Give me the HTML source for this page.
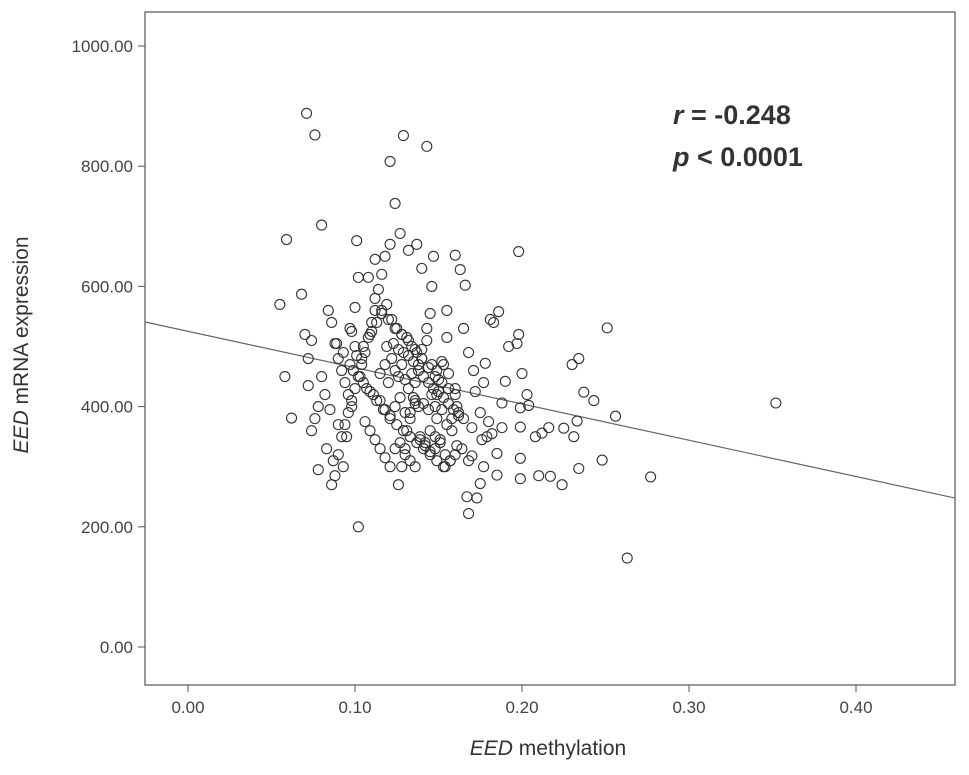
<!DOCTYPE html>
<html><head><meta charset="utf-8"><style>
body{margin:0;background:#fff;}
svg{display:block;font-family:"Liberation Sans",sans-serif;}
</style></head><body>
<svg id="chart" width="969" height="775" viewBox="0 0 969 775">
<rect x="0" y="0" width="969" height="775" fill="#fff"/>
<rect x="145" y="12" width="810" height="673" fill="#fff" stroke="#555" stroke-width="1.2"/>
<g id="yticks"></g><g id="xticks"></g>
<line id="fit" stroke="#666" stroke-width="1.2"/>
<g id="pts"></g>
<text x="673" y="124" font-size="27" font-weight="bold" fill="#333"><tspan font-style="italic">r</tspan> = -0.248</text>
<text x="673" y="166" font-size="27" font-weight="bold" fill="#333"><tspan font-style="italic">p</tspan> &lt; 0.0001</text>
<text x="548" y="755" font-size="21" fill="#333" text-anchor="middle"><tspan font-style="italic">EED</tspan> methylation</text>
<text transform="translate(28,345) rotate(-90)" font-size="21" fill="#333" text-anchor="middle"><tspan font-style="italic">EED</tspan> mRNA expression</text>
</svg>
<script>
const yTickVals=[0,200,400,600,800,1000];
const yTickLabels=["0.00","200.00","400.00","600.00","800.00","1000.00"];
const xTickVals=[0,0.1,0.2,0.3,0.4];
const xTickLabels=["0.00","0.10","0.20","0.30","0.40"];
const fitX=[-0.026,0.459];
const fitY=[541,248];
const methylation=[0.071,0.076,0.129,0.143,0.121,0.124,0.080,0.059,0.101,0.198,0.160,0.263,0.352,0.277,0.102,0.168,0.055,0.068,0.058,0.062,0.251,0.256,0.248,0.243,0.237,0.234,0.230,0.233,0.231,0.234,0.224,0.217,0.210,0.225,0.216,0.212,0.208,0.198,0.197,0.200,0.199,0.203,0.204,0.199,0.199,0.199,0.186,0.181,0.183,0.192,0.190,0.188,0.188,0.185,0.185,0.177,0.178,0.179,0.177,0.175,0.171,0.168,0.165,0.166,0.163,0.172,0.170,0.168,0.167,0.173,0.160,0.161,0.158,0.160,0.155,0.155,0.153,0.150,0.149,0.148,0.147,0.146,0.145,0.143,0.140,0.138,0.136,0.135,0.133,0.131,0.130,0.128,0.126,0.140,0.137,0.132,0.127,0.121,0.118,0.116,0.114,0.112,0.110,0.108,0.106,0.104,0.102,0.100,0.098,0.096,0.094,0.092,0.090,0.088,0.086,0.084,0.086,0.088,0.090,0.092,0.094,0.096,0.098,0.080,0.082,0.078,0.076,0.074,0.078,0.072,0.074,0.070,0.072,0.097,0.098,0.100,0.102,0.108,0.112,0.100,0.104,
0.115,0.118,0.120,0.122,0.124,0.126,0.128,0.130,0.132,0.134,0.136,0.138,0.141,0.144,0.146,0.149,0.152,0.155,0.158,0.162,0.115,0.118,0.121,0.124,0.127,0.130,0.133,0.136,0.139,0.142,0.145,0.148,0.151,0.154,0.157,0.161,0.164,0.110,0.113,0.116,0.119,0.122,0.125,0.128,0.131,0.134,0.137,0.140,0.143,0.146,0.149,0.152,0.156,0.106,0.109,0.112,0.115,0.118,0.121,0.124,0.127,0.130,0.133,0.136,0.139,0.142,0.145,0.148,0.151,0.154,0.157,0.119,0.123,0.126,0.129,0.132,0.135,0.138,0.141,0.144,0.147,0.150,0.153,0.156,0.159,0.162,0.165,0.112,0.116,0.120,0.124,0.128,0.132,0.136,0.140,0.144,0.148,0.152,0.156,0.160,0.105,0.109,0.113,0.117,0.121,0.125,0.129,0.133,0.137,0.141,0.145,0.149,0.153,0.085,0.090,0.095,0.083,0.087,0.093,0.097,0.101,0.105,0.109,0.089,0.093,0.099,0.103,0.107,0.111,0.175,0.180,0.170,0.182,0.176];
const expression=[888,852,851,833,808,738,702,678,676,658,652,148,406,283,200,222,570,587,450,381,531,384,311,410,424,480,470,376,350,297,270,284,285,364,365,356,350,520,505,455,398,420,402,366,314,280,558,545,540,500,442,406,365,322,286,440,472,350,300,272,460,490,530,602,628,425,318,310,250,248,430,400,380,320,560,515,470,445,420,400,650,600,555,530,495,470,440,415,390,360,330,300,270,630,670,660,688,670,650,620,595,560,540,515,490,470,450,430,410,390,370,350,320,285,270,560,540,505,480,460,440,420,400,450,420,400,380,360,295,480,510,520,435,530,525,565,615,615,645,500,480,
455,470,440,480,460,450,470,445,430,455,410,400,405,395,420,380,395,370,360,390,410,395,385,400,415,390,380,405,350,340,360,330,345,320,310,335,330,525,540,555,570,545,530,520,515,500,490,480,510,470,460,475,455,375,360,345,330,315,300,330,340,320,310,300,345,335,325,350,340,300,310,500,505,495,490,485,475,460,450,440,430,425,415,405,395,385,380,580,560,545,530,520,510,495,480,465,450,440,430,420,440,425,410,395,380,370,360,350,340,330,320,310,300,395,370,350,330,310,300,470,485,500,520,505,490,460,450,430,420,390,375,365,355,345,335];
const X=v=>188+1670*v, Y=v=>647-0.601*v;
const NS="http://www.w3.org/2000/svg";
const yt=document.getElementById('yticks'), xt=document.getElementById('xticks'), pts=document.getElementById('pts');
yTickVals.forEach((v,i)=>{
  const l=document.createElementNS(NS,'line');
  
  
  l.setAttribute('x1',138);l.setAttribute('x2',145);l.setAttribute('y1',Y(v));l.setAttribute('y2',Y(v));l.setAttribute('stroke','#555');
  yt.appendChild(l);
  const t=document.createElementNS(NS,'text');
  
  
  t.setAttribute('x',133);t.setAttribute('y',Y(v)+6);t.setAttribute('text-anchor','end');t.setAttribute('font-size','17');t.setAttribute('fill','#444');
  t.textContent=yTickLabels[i];yt.appendChild(t);
});
xTickVals.forEach((v,i)=>{
  const l=document.createElementNS(NS,'line');
  
  
  l.setAttribute('x1',X(v));l.setAttribute('x2',X(v));l.setAttribute('y1',685);l.setAttribute('y2',692);l.setAttribute('stroke','#555');
  xt.appendChild(l);
  const t=document.createElementNS(NS,'text');
  
  
  t.setAttribute('x',X(v));t.setAttribute('y',713);t.setAttribute('text-anchor','middle');t.setAttribute('font-size','17');t.setAttribute('fill','#444');
  t.textContent=xTickLabels[i];xt.appendChild(t);
});
const f=document.getElementById('fit');
f.setAttribute('x1',X(fitX[0]));f.setAttribute('y1',Y(fitY[0]));f.setAttribute('x2',X(fitX[1]));f.setAttribute('y2',Y(fitY[1]));
const n=Math.min(methylation.length,expression.length);
for(let i=0;i<n;i++){
  const c=document.createElementNS(NS,'circle');
  
  
  c.setAttribute('cx',X(methylation[i]));c.setAttribute('cy',Y(expression[i]));c.setAttribute('r',5);
  c.setAttribute('fill','none');c.setAttribute('stroke','#333');c.setAttribute('stroke-width','1.1');
  pts.appendChild(c);
}
</script>
</body></html>
